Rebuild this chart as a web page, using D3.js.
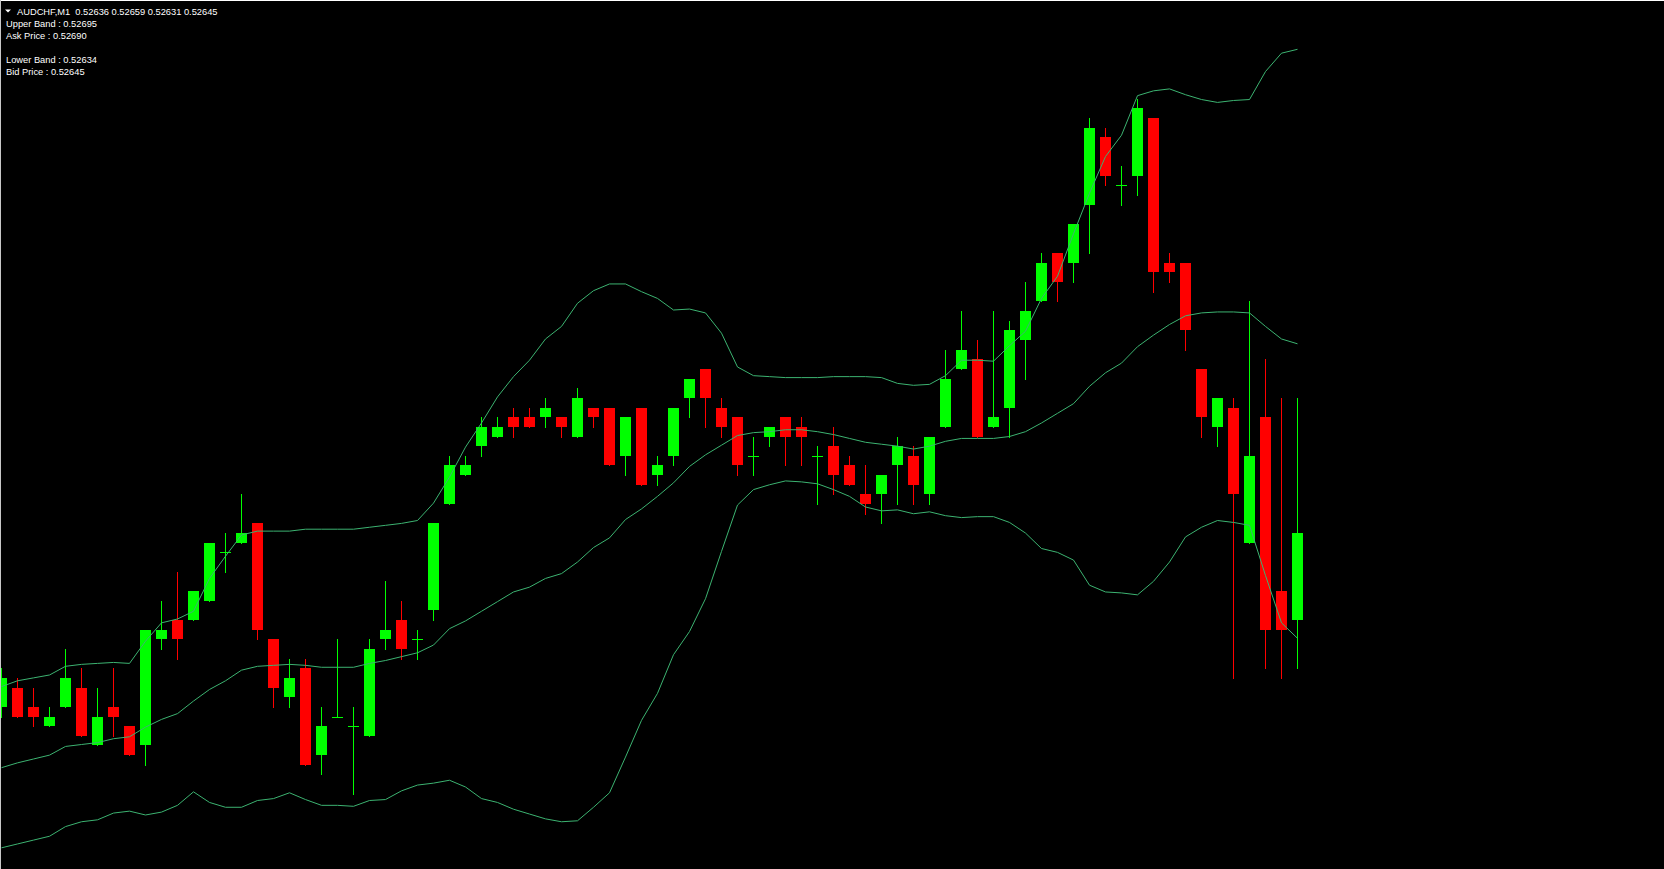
<!DOCTYPE html>
<html>
<head>
<meta charset="utf-8">
<script src="https://cdnjs.cloudflare.com/ajax/libs/d3/7.8.5/d3.min.js"></script>
<style>
  html, body { margin: 0; padding: 0; background: #000; overflow: hidden; }
  svg { display: block; }
</style>
</head>
<body>
<svg width="1664" height="869"></svg>
<script>
// AUDCHF M1 candles (5 digit prices)
var openP = [0.52627,0.52629,0.52627,0.52625,0.52627,0.52629,0.52623,0.52627,0.52625,0.52623,
  0.52634,0.52636,0.52636,0.52638,0.52643,0.52644,0.52646,0.52634,0.52628,0.52631,
  0.52622,0.52626,0.52625,0.52624,0.52634,0.52636,0.52634,0.52637,0.52648,0.52651,
  0.52654,0.52655,0.52657,0.52657,0.52657,0.52657,0.52655,0.52658,0.52658,0.52653,
  0.52658,0.52651,0.52653,0.52659,0.52662,0.52658,0.52657,0.52653,0.52655,0.52657,
  0.52656,0.52653,0.52654,0.52652,0.52649,0.52649,0.52652,0.52653,0.52649,0.52656,
  0.52662,0.52663,0.52656,0.52658,0.52665,0.52669,0.52674,0.52673,0.52679,0.52686,
  0.52681,0.52682,0.52688,0.52673,0.52673,0.52662,0.52656,0.52658,0.52644,0.52657,
  0.52639,0.52636];
var highP = [0.52631,0.52630,0.52629,0.52627,0.52633,0.52631,0.52629,0.52631,0.52625,0.52635,
  0.52638,0.52641,0.52639,0.52644,0.52645,0.52649,0.52646,0.52634,0.52632,0.52632,
  0.52627,0.52634,0.52627,0.52634,0.52640,0.52638,0.52635,0.52646,0.52653,0.52653,
  0.52657,0.52657,0.52658,0.52658,0.52659,0.52657,0.52660,0.52658,0.52658,0.52657,
  0.52658,0.52653,0.52658,0.52661,0.52662,0.52659,0.52657,0.52655,0.52656,0.52657,
  0.52657,0.52654,0.52656,0.52653,0.52652,0.52651,0.52655,0.52654,0.52655,0.52664,
  0.52668,0.52665,0.52668,0.52667,0.52671,0.52674,0.52674,0.52677,0.52688,0.52687,
  0.52683,0.52690,0.52688,0.52674,0.52673,0.52662,0.52659,0.52659,0.52669,0.52663,
  0.52659,0.52659];
var lowP = [0.52626,0.52626,0.52625,0.52625,0.52627,0.52624,0.52623,0.52624,0.52622,0.52621,
  0.52633,0.52632,0.52636,0.52638,0.52641,0.52644,0.52634,0.52627,0.52627,0.52621,
  0.52620,0.52626,0.52618,0.52624,0.52633,0.52632,0.52632,0.52636,0.52648,0.52651,
  0.52653,0.52655,0.52655,0.52656,0.52656,0.52655,0.52655,0.52656,0.52652,0.52651,
  0.52650,0.52650,0.52652,0.52657,0.52656,0.52655,0.52651,0.52651,0.52654,0.52652,
  0.52652,0.52648,0.52649,0.52650,0.52647,0.52646,0.52648,0.52648,0.52648,0.52656,
  0.52662,0.52655,0.52656,0.52655,0.52661,0.52669,0.52669,0.52671,0.52674,0.52681,
  0.52679,0.52680,0.52670,0.52671,0.52664,0.52655,0.52654,0.52630,0.52644,0.52631,
  0.52630,0.52631];
var closeP = [0.52630,0.52626,0.52626,0.52626,0.52630,0.52624,0.52626,0.52626,0.52622,0.52635,
  0.52635,0.52634,0.52639,0.52644,0.52643,0.52645,0.52635,0.52629,0.52630,0.52621,
  0.52625,0.52626,0.52625,0.52633,0.52635,0.52633,0.52634,0.52646,0.52652,0.52652,
  0.52656,0.52656,0.52656,0.52656,0.52658,0.52656,0.52659,0.52657,0.52652,0.52657,
  0.52650,0.52652,0.52658,0.52661,0.52659,0.52656,0.52652,0.52653,0.52656,0.52655,
  0.52655,0.52653,0.52651,0.52650,0.52648,0.52651,0.52654,0.52650,0.52655,0.52661,
  0.52664,0.52655,0.52657,0.52666,0.52668,0.52673,0.52671,0.52677,0.52687,0.52682,
  0.52681,0.52689,0.52672,0.52672,0.52666,0.52657,0.52659,0.52649,0.52653,0.52635,
  0.52635,0.52645];

// Bollinger bands, one value per candle
var upperBand = [0.526291,0.526297,0.526300,0.526303,0.526312,0.526314,0.526315,0.526316,0.526315,0.526338,
  0.526357,0.526361,0.526369,0.526403,0.526426,0.526448,0.526452,0.526452,0.526452,0.526454,
  0.526454,0.526454,0.526454,0.526456,0.526458,0.526460,0.526463,0.526481,0.526508,0.526539,
  0.526564,0.526591,0.526612,0.526629,0.526651,0.526664,0.526688,0.526701,0.526708,0.526708,
  0.526700,0.526693,0.526681,0.526682,0.526678,0.526657,0.526622,0.526613,0.526612,0.526611,
  0.526611,0.526611,0.526612,0.526612,0.526612,0.526611,0.526605,0.526603,0.526604,0.526613,
  0.526629,0.526629,0.526628,0.526644,0.526659,0.526693,0.526716,0.526760,0.526802,0.526840,
  0.526862,0.526903,0.526908,0.526910,0.526904,0.526899,0.526896,0.526898,0.526899,0.526928,
  0.526947,0.526951];
var middleBand = [0.526207,0.526212,0.526216,0.526220,0.526229,0.526231,0.526233,0.526237,0.526239,0.526249,
  0.526257,0.526263,0.526276,0.526288,0.526297,0.526308,0.526312,0.526313,0.526314,0.526313,
  0.526311,0.526311,0.526311,0.526315,0.526318,0.526322,0.526326,0.526334,0.526351,0.526359,
  0.526369,0.526379,0.526389,0.526394,0.526403,0.526408,0.526420,0.526435,0.526445,0.526464,
  0.526475,0.526488,0.526502,0.526519,0.526531,0.526541,0.526551,0.526554,0.526555,0.526557,
  0.526557,0.526555,0.526552,0.526548,0.526544,0.526542,0.526540,0.526537,0.526540,0.526545,
  0.526548,0.526548,0.526548,0.526550,0.526555,0.526564,0.526574,0.526584,0.526602,0.526616,
  0.526626,0.526643,0.526655,0.526666,0.526675,0.526678,0.526679,0.526679,0.526678,0.526664,
  0.526651,0.526646];
var lowerBand = [0.526124,0.526128,0.526132,0.526136,0.526146,0.526151,0.526153,0.526160,0.526162,0.526158,
  0.526161,0.526168,0.526182,0.526171,0.526166,0.526166,0.526173,0.526175,0.526181,0.526174,
  0.526168,0.526168,0.526167,0.526173,0.526174,0.526183,0.526189,0.526191,0.526194,0.526187,
  0.526175,0.526171,0.526164,0.526159,0.526154,0.526151,0.526152,0.526166,0.526181,0.526218,
  0.526256,0.526284,0.526324,0.526348,0.526382,0.526431,0.526479,0.526495,0.526500,0.526504,
  0.526503,0.526501,0.526495,0.526488,0.526477,0.526473,0.526474,0.526470,0.526472,0.526468,
  0.526466,0.526467,0.526467,0.526461,0.526450,0.526434,0.526430,0.526422,0.526396,0.526389,
  0.526388,0.526386,0.526400,0.526420,0.526446,0.526456,0.526463,0.526461,0.526458,0.526406,
  0.526357,0.526341];

var infoLines = [
  {label: 'Upper Band : 0.52695', y: 27},
  {label: 'Ask Price : 0.52690', y: 38.5},
  {label: 'Lower Band : 0.52634', y: 63},
  {label: 'Bid Price : 0.52645', y: 74.5}
];
var titleText = 'AUDCHF,M1  0.52636 0.52659 0.52631 0.52645';

var svg = d3.select('svg');
var width = +svg.attr('width');
var height = +svg.attr('height');

var xScale = d3.scaleLinear().domain([0, openP.length - 1]).range([1, 1297]);
var yScale = d3.scaleLinear().domain([0.52610, 0.52700]).range([871, 2]);
function py(v) { return Math.round(yScale(v)); }

svg.append('rect').attr('width', width).attr('height', height).attr('fill', '#000');

var bars = openP.map(function(o, i) {
  return {i: i, o: o, h: highP[i], l: lowP[i], c: closeP[i]};
});
function barColor(d) { return d.c >= d.o ? '#00ff00' : '#ff0000'; }

var candles = svg.append('g').attr('class', 'candles').attr('shape-rendering', 'crispEdges');
candles.selectAll('.wick')
  .data(bars)
  .enter()
  .append('rect')
  .attr('class', 'wick')
  .attr('x', function(d) { return xScale(d.i); })
  .attr('width', 1)
  .attr('y', function(d) { return py(d.h); })
  .attr('height', function(d) { return py(d.l) - py(d.h) + 1; })
  .attr('fill', barColor);
candles.selectAll('.body')
  .data(bars)
  .enter()
  .append('rect')
  .attr('class', 'body')
  .attr('x', function(d) { return xScale(d.i) - 5; })
  .attr('width', 11)
  .attr('y', function(d) { return py(Math.max(d.o, d.c)); })
  .attr('height', function(d) {
    return Math.max(1, py(Math.min(d.o, d.c)) - py(Math.max(d.o, d.c)));
  })
  .attr('fill', barColor);

// bands on top of candles
var line = d3.line()
  .x(function(d, i) { return xScale(i) + 0.5; })
  .y(function(d) { return yScale(d); });
[upperBand, middleBand, lowerBand].forEach(function(band) {
  svg.append('path')
    .datum(band)
    .attr('d', line)
    .attr('fill', 'none')
    .attr('stroke', '#3cb371')
    .attr('stroke-width', 1);
});

// frame
svg.append('line').attr('x1', 0).attr('x2', width).attr('y1', 0.5).attr('y2', 0.5)
  .attr('stroke', '#ffffff').attr('shape-rendering', 'crispEdges');
svg.append('line').attr('x1', 0.5).attr('x2', 0.5).attr('y1', 0).attr('y2', height)
  .attr('stroke', '#c8c8c8').attr('shape-rendering', 'crispEdges');

// header text
svg.append('path').attr('d', 'M5,9.5 L11,9.5 L8,12.5 Z').attr('fill', '#fff');
var font = '"Liberation Sans", Arial, sans-serif';
svg.append('text')
  .attr('x', 17).attr('y', 14.5)
  .style('white-space', 'pre')
  .attr('font-family', font).attr('font-size', 9.3)
  .attr('fill', '#fff')
  .text(titleText);
svg.selectAll('.info')
  .data(infoLines)
  .enter()
  .append('text')
  .attr('class', 'info')
  .attr('x', 6)
  .attr('y', function(d) { return d.y; })
  .attr('font-family', font).attr('font-size', 9.3)
  .attr('fill', '#fff')
  .text(function(d) { return d.label; });
</script>
</body>
</html>
